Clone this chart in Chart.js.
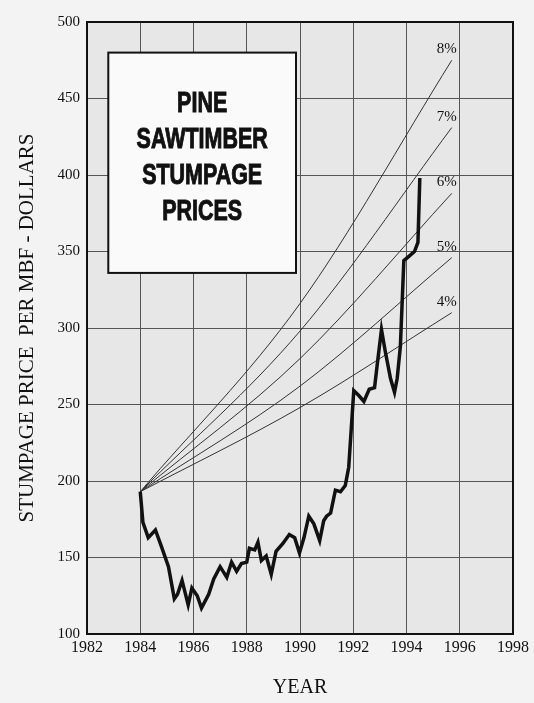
<!DOCTYPE html>
<html>
<head>
<meta charset="utf-8">
<script src="https://cdn.jsdelivr.net/npm/chart.js@4"></script>
<style>
  html, body { margin: 0; padding: 0; background: #f3f3f3; }
  canvas { display: block; }
</style>
</head>
<body>
<canvas id="stumpageChart" width="534" height="703"></canvas>
<script>
// price history
const years = [1984.0, 1984.1, 1984.3, 1984.57, 1984.8, 1985.06, 1985.28, 1985.4, 1985.57, 1985.8,
    1985.94, 1986.14, 1986.3, 1986.57, 1986.76, 1987.0, 1987.25, 1987.43, 1987.62, 1987.8,
    1988.0, 1988.1, 1988.3, 1988.42, 1988.55, 1988.73, 1988.92, 1989.1, 1989.35, 1989.6,
    1989.8, 1989.98, 1990.15, 1990.33, 1990.52, 1990.74, 1990.89, 1991.0, 1991.15, 1991.33,
    1991.52, 1991.7, 1991.83, 1992.02, 1992.2, 1992.4, 1992.6, 1992.8, 1992.9, 1993.06,
    1993.2, 1993.4, 1993.55, 1993.65, 1993.77, 1993.9, 1994.1, 1994.3, 1994.43, 1994.5];
const prices = [193, 173, 163, 168, 157, 144, 123, 126, 135, 119,
    130, 125, 117, 126, 136, 144, 137, 147, 141, 146,
    147, 156, 155, 160, 148, 151, 139, 154, 159, 165,
    163, 153, 163, 177, 172, 161, 174, 177, 179, 194,
    193, 197, 209, 259, 256, 252, 260, 261, 276, 299,
    285, 267, 258, 267, 288, 344, 347, 350, 356, 398];

// compound growth reference lines from the 1984 price
const rateLabels = ["4%", "5%", "6%", "7%", "8%"];
const rateYears = [1984, 1990, 1995.7];
const rate4 = [193, 248, 310];
const rate5 = [193, 262, 346];
const rate6 = [193, 280, 388];
const rate7 = [193, 298, 431];
const rate8 = [193, 316, 475];

const xTicks = [1982, 1984, 1986, 1988, 1990, 1992, 1994, 1996, 1998];
const yTicks = [100, 150, 200, 250, 300, 350, 400, 450, 500];
const titleLines = ["PINE", "SAWTIMBER", "STUMPAGE", "PRICES"];

function toPoints(xs, ys) {
    return xs.map((x, i) => ({ x: x, y: ys[i] }));
}

const rateSeries = [rate4, rate5, rate6, rate7, rate8];

const datasets = [{
    label: "Price",
    data: toPoints(years, prices),
    borderColor: "#111",
    borderWidth: 3.5,
    pointRadius: 0,
    tension: 0,
    borderJoinStyle: "miter"
}];
rateSeries.forEach((vals, i) => {
    datasets.push({
        label: rateLabels[i],
        data: toPoints(rateYears, vals),
        borderColor: "#333",
        borderWidth: 1,
        pointRadius: 0,
        cubicInterpolationMode: "monotone"
    });
});

const serif = "'Liberation Serif', 'Times New Roman', serif";

const decorPlugin = {
    id: "decor",
    beforeDraw(chart) {
        const { ctx, chartArea: a } = chart;
        ctx.save();
        ctx.fillStyle = "#f3f3f3";
        ctx.fillRect(0, 0, chart.width, chart.height);
        ctx.fillStyle = "#e7e7e7";
        ctx.fillRect(a.left, a.top, a.right - a.left, a.bottom - a.top);
        ctx.restore();
    },
    beforeDatasetsDraw(chart) {
        const { ctx, scales: { x, y } } = chart;
        // title box
        const left = x.getPixelForValue(1982.8);
        const right = x.getPixelForValue(1989.85);
        const top = y.getPixelForValue(480);
        const bottom = y.getPixelForValue(336);
        ctx.save();
        ctx.fillStyle = "#fafafa";
        ctx.fillRect(left, top, right - left, bottom - top);
        ctx.strokeStyle = "#111";
        ctx.lineWidth = 2;
        ctx.strokeRect(left, top, right - left, bottom - top);
        ctx.fillStyle = "#111";
        ctx.strokeStyle = "#111";
        ctx.lineWidth = 1;
        ctx.font = "bold 29px 'Liberation Sans', Arial, sans-serif";
        ctx.textAlign = "center";
        ctx.textBaseline = "middle";
        const cx = (left + right) / 2;
        // condensed look
        titleLines.forEach((t, i) => {
            ctx.save();
            ctx.translate(cx, top + 51 + i * 36);
            ctx.scale(0.74, 1);
            ctx.fillText(t, 0, 0);
            ctx.strokeText(t, 0, 0);
            ctx.restore();
        });
        ctx.restore();
    },
    afterDatasetsDraw(chart) {
        const { ctx, chartArea: a, scales: { x, y } } = chart;
        ctx.save();
        // rate labels at the line ends
        ctx.fillStyle = "#111";
        ctx.font = "15px " + serif;
        ctx.textAlign = "center";
        ctx.textBaseline = "middle";
        rateSeries.forEach((vals, i) => {
            const last = vals.length - 1;
            const px = x.getPixelForValue(rateYears[last]);
            const py = y.getPixelForValue(vals[last]);
            ctx.fillText(rateLabels[i], px - 5, py - 11);
        });
        // frame
        ctx.strokeStyle = "#111";
        ctx.lineWidth = 2;
        ctx.strokeRect(a.left, a.top, a.right - a.left, a.bottom - a.top);
        ctx.restore();
    }
};

new Chart(document.getElementById("stumpageChart"), {
    type: "line",
    data: { datasets: datasets },
    plugins: [decorPlugin],
    options: {
        responsive: false,
        animation: false,
        layout: { padding: { top: 22, right: 21, bottom: 0, left: 0 } },
        plugins: {
            legend: { display: false },
            tooltip: { enabled: false }
        },
        scales: {
            x: {
                type: "linear",
                min: 1982,
                max: 1998,
                afterBuildTicks: (scale) => {
                    scale.ticks = xTicks.map(v => ({ value: v }));
                },
                afterFit: (scale) => { scale.height = 69; },
                grid: { color: "#555", lineWidth: 1, drawTicks: false },
                border: { display: false },
                ticks: {
                    color: "#111",
                    font: { family: serif, size: 16 },
                    padding: 4,
                    maxRotation: 0,
                    autoSkip: false,
                    callback: (v) => String(v)
                },
                title: {
                    display: true,
                    text: "YEAR",
                    color: "#111",
                    font: { family: serif, size: 20 },
                    padding: { top: 0, bottom: 3 }
                }
            },
            y: {
                min: 100,
                max: 500,
                afterBuildTicks: (scale) => {
                    scale.ticks = yTicks.map(v => ({ value: v }));
                },
                afterFit: (scale) => { scale.width = 87; },
                grid: { color: "#555", lineWidth: 1, drawTicks: false },
                border: { display: false },
                ticks: {
                    color: "#111",
                    font: { family: serif, size: 15 },
                    padding: 7,
                    autoSkip: false
                },
                title: {
                    display: true,
                    text: "STUMPAGE PRICE  PER MBF - DOLLARS",
                    color: "#111",
                    font: { family: serif, size: 21 },
                    padding: { top: 15, bottom: 0 }
                }
            }
        }
    }
});
</script>
</body>
</html>
